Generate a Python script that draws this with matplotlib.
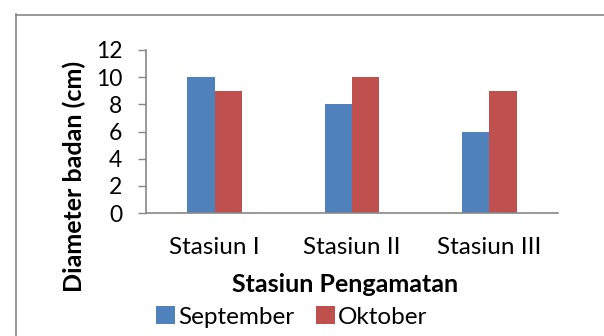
import matplotlib.pyplot as plt
import numpy as np

# data
stasiun = ['Stasiun I', 'Stasiun II', 'Stasiun III']
september = [10, 8, 6]
oktober = [9, 10, 9]
yticks = [0, 2, 4, 6, 8, 10, 12]

plt.rcParams['font.family'] = ['Lato', 'DejaVu Sans']

fig = plt.figure(figsize=(6.04, 3.36), dpi=100)
W, H = 604, 336

# outer chart border (clipped on right and bottom)
fig.add_artist(plt.Line2D([16 / W, 16 / W], [0, 1 - 14 / H], color='#878787', lw=1.2))
fig.add_artist(plt.Line2D([16 / W, 1], [1 - 14.5 / H, 1 - 14.5 / H], color='#878787', lw=1.2))

ax = fig.add_axes([146 / W, 1 - 213 / H, (558 - 146) / W, (213 - 50) / H])

x = np.arange(len(stasiun))
w = 0.2
ax.bar(x - w / 2, september, w, color='#4F81BD', label='September')
ax.bar(x + w / 2, oktober, w, color='#C0504D', label='Oktober')

ax.set_xlim(-0.5, 2.5)
ax.set_ylim(0, 12)
ax.set_yticks(yticks)
ax.set_xticks(x)
ax.set_xticklabels(stasiun, fontsize=17.5)

for s in ['top', 'right']:
    ax.spines[s].set_visible(False)
for s in ['left', 'bottom']:
    ax.spines[s].set_color('#878787')
    ax.spines[s].set_linewidth(1.2)

ax.tick_params(axis='y', direction='out', length=6, width=1, color='#878787', pad=11, labelsize=16.5)
ax.tick_params(axis='x', length=0, pad=17)

fig.text(345 / W, 1 - 285 / H, 'Stasiun Pengamatan', fontsize=18, fontweight='bold',
         ha='center', va='center')
fig.text(74 / W, 1 - 176 / H, 'Diameter badan (cm)', fontsize=18, fontweight='bold',
         ha='center', va='center', rotation=90)

fig.legend(loc='center', bbox_to_anchor=(292 / W, 1 - 317 / H), ncol=2, frameon=False,
           fontsize=17.5, handlelength=0.75, handleheight=0.75, handletextpad=0.15,
           columnspacing=0.9, borderaxespad=0)

fig.savefig('out.png', dpi=100)
